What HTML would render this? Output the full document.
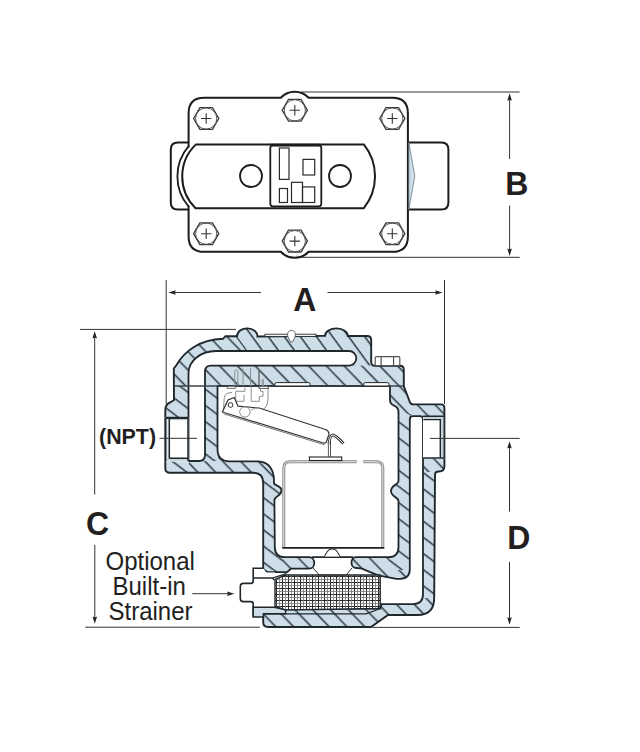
<!DOCTYPE html>
<html><head><meta charset="utf-8">
<style>
html,body{margin:0;padding:0;background:#fff;}
body{width:640px;height:752px;overflow:hidden;}
svg{display:block;}
text{font-family:"Liberation Sans",sans-serif;fill:#231f20;}
</style></head>
<body>
<svg width="640" height="752" viewBox="0 0 640 752">
<defs>
  <pattern id="hatch" patternUnits="userSpaceOnUse" width="12.8" height="40" patternTransform="rotate(-44) translate(0,0)">
    <rect x="0" y="0" width="12.8" height="40" fill="#cddee8"/>
    <rect x="5.5" y="0" width="1.5" height="40" fill="#2a3841"/>
  </pattern>
  <pattern id="hatchH" patternUnits="userSpaceOnUse" width="13.0" height="40" patternTransform="rotate(-36) translate(0,0)">
    <rect x="0" y="0" width="13.0" height="40" fill="#cddee8"/>
    <rect x="5.5" y="0" width="1.5" height="40" fill="#2a3841"/>
  </pattern>
  <pattern id="hatchV" patternUnits="userSpaceOnUse" width="12.9" height="40" patternTransform="rotate(-53) translate(0,0)">
    <rect x="0" y="0" width="12.9" height="40" fill="#cddee8"/>
    <rect x="5.5" y="0" width="1.5" height="40" fill="#2a3841"/>
  </pattern>
  <pattern id="mesh" patternUnits="userSpaceOnUse" width="6" height="6">
    <rect width="6" height="6" fill="#fff"/>
    <rect x="0" y="0" width="1" height="6" fill="#2a2a2a"/>
    <rect x="0" y="0" width="6" height="1" fill="#2a2a2a"/>
    <rect x="3" y="0" width="0.8" height="6" fill="#777"/>
    <rect x="0" y="3" width="6" height="0.8" fill="#777"/>
  </pattern>
  <g id="bolt">
    <polygon points="-12.6,0 -6.3,-10.9 6.3,-10.9 12.6,0 6.3,10.9 -6.3,10.9" fill="#fff" stroke="#3a3a3a" stroke-width="1.3"/>
    <circle r="10.6" fill="none" stroke="#555" stroke-width="1"/>
    <path d="M-5.2,0H5.2M0,-5.2V5.2" stroke="#333" stroke-width="1.1"/>
  </g>
</defs>

<!-- ================= TOP VIEW ================= -->
<g stroke="#1c1c1c" stroke-width="2" fill="#fff">
  <!-- left boss -->
  <path d="M190,142.6 L177.8,142.6 Q170.8,142.6 170.8,149.6 L170.8,202.6 Q170.8,209.6 177.8,209.6 L190,209.6 Z"/>
  <!-- right boss -->
  <path d="M408,142.6 L441.4,142.6 Q448.4,142.6 448.4,149.6 L448.4,202.6 Q448.4,209.6 441.4,209.6 L408,209.6 Z"/>
  <!-- body -->
  <path d="M204.1,97.8 L280.8,97.8 A19 19 0 0 1 308.6,97.8 L392.4,97.8 Q407.9,97.8 407.9,113.3 L407.9,236.4 Q407.9,251.8 392.4,251.8 L308.6,251.8 A19 19 0 0 1 280.8,251.8 L204.1,251.8 Q188.6,251.8 188.6,236.4 L188.6,113.3 Q188.6,97.8 204.1,97.8 Z"/>
</g>
<rect x="186.8" y="147.5" width="3.6" height="58" fill="#fff"/>
<!-- chamfer on right -->
<path d="M408.8,142.6 L414.8,176 L408.8,209.6 Z" fill="#cddee8" stroke="#6a7a86" stroke-width="0.8"/>
<!-- outer arc between boss and body -->
<path d="M188.7,146.2 A46 46 0 0 0 188.7,206.6" fill="none" stroke="#1c1c1c" stroke-width="1.8"/>
<!-- band -->
<path d="M196,144.4 L363.8,144.4 A51 51 0 0 1 363.8,208.2 L195.5,208.2 A44.4 44.4 0 0 1 196,144.4 Z" fill="#fff" stroke="#1c1c1c" stroke-width="2"/>
<circle cx="251" cy="176" r="11" fill="none" stroke="#1c1c1c" stroke-width="1.8"/>
<circle cx="340" cy="176" r="11" fill="none" stroke="#1c1c1c" stroke-width="1.8"/>
<!-- nameplate -->
<rect x="270.3" y="145.3" width="51" height="61" rx="2.5" fill="#fff" stroke="#1c1c1c" stroke-width="1.8"/>
<rect x="270.5" y="143.8" width="50.5" height="2.6" fill="#1c1c1c"/>
<g fill="none" stroke="#2a2a2a" stroke-width="1.2">
  <rect x="279.4" y="148" width="9.6" height="31.4"/>
  <rect x="303" y="159.4" width="11.7" height="15.6"/>
  <rect x="279.4" y="188.5" width="8.1" height="14"/>
  <rect x="291.5" y="182.3" width="11" height="20.2"/>
  <rect x="302.5" y="186.9" width="12.2" height="15.6"/>
</g>
<!-- bolts -->
<use href="#bolt" x="206.2" y="118.5"/>
<use href="#bolt" x="294.8" y="110.3"/>
<use href="#bolt" x="392.3" y="118.5"/>
<use href="#bolt" x="206.2" y="233.7"/>
<use href="#bolt" x="294.8" y="241.1"/>
<use href="#bolt" x="392.3" y="233.7"/>

<!-- dimension B -->
<g stroke="#333" stroke-width="1" fill="none">
  <path d="M301,92 H519.7 M302,257.3 H519.7"/>
  <path d="M509.6,99 V159 M509.6,205.6 V250"/>
</g>
<g fill="#222">
  <path d="M509.60,93.30 L507.30,100.70 L509.60,99.70 L511.90,100.70 Z"/>
  <path d="M509.60,255.90 L507.30,248.50 L509.60,249.50 L511.90,248.50 Z"/>
</g>
<text transform="translate(505.3,194.6) scale(1,1.04)" font-size="32" font-weight="bold">B</text>

<!-- ================= SECTION VIEW ================= -->
<!-- silhouette -->
<defs><clipPath id="silclip"><path d="M225.5,336.2 L237,336.2 A10.25 8 0 0 1 257.5,336.5 L325,335.8 A11.4 7.5 0 0 1 347.8,336 L367.2,336 Q371.2,336 371.2,340 L371.2,362 Q371.2,365.8 375,365.8 L400,365.8 Q403.8,365.8 403.8,369.6 L403.8,386 L409.8,402 Q410.5,404.4 413.5,404.4 L441,404.4 Q444.4,404.4 444.4,408 L444.4,466 Q444.4,471.5 439,471.5 L438.5,471.5 Q435,471.5 435,475 L434.2,598 Q434.2,615 417.5,615 L388,615 L371,627 L268,627 Q263.2,627 263.2,622 L263.2,483 Q263.2,472.8 253,472.8 L170,472.8 Q165.3,472.8 165.3,468 L165.3,410 Q165.3,404 171,402 L174,400 L173.8,368.5 L176.5,365 C184,352 199,339.5 223,338.8 L225.5,336.2 Z"/></clipPath></defs>
<path d="M225.5,336.2 L237,336.2 A10.25 8 0 0 1 257.5,336.5 L325,335.8 A11.4 7.5 0 0 1 347.8,336 L367.2,336 Q371.2,336 371.2,340 L371.2,362 Q371.2,365.8 375,365.8 L400,365.8 Q403.8,365.8 403.8,369.6 L403.8,386 L409.8,402 Q410.5,404.4 413.5,404.4 L441,404.4 Q444.4,404.4 444.4,408 L444.4,466 Q444.4,471.5 439,471.5 L438.5,471.5 Q435,471.5 435,475 L434.2,598 Q434.2,615 417.5,615 L388,615 L371,627 L268,627 Q263.2,627 263.2,622 L263.2,483 Q263.2,472.8 253,472.8 L170,472.8 Q165.3,472.8 165.3,468 L165.3,410 Q165.3,404 171,402 L174,400 L173.8,368.5 L176.5,365 C184,352 199,339.5 223,338.8 L225.5,336.2 Z" fill="#cddee8"/>
<g clip-path="url(#silclip)">
  <rect x="150" y="320" width="300" height="320" fill="url(#hatch)"/>
  <path d="M223.4,320 L460,320 L460,365.5 L256.4,365.5 Z" fill="url(#hatchH)"/>
  <rect x="150" y="386" width="39" height="91" fill="url(#hatchV)"/>
  <rect x="204" y="386" width="14" height="75" fill="url(#hatchV)"/>
  <rect x="262" y="480" width="21" height="90" fill="url(#hatchV)"/>
  <rect x="389" y="414" width="22" height="156" fill="url(#hatchV)"/>
  <rect x="422" y="472" width="16" height="126" fill="url(#hatchV)"/>
</g>
<path id="sil" d="M225.5,336.2 L237,336.2 A10.25 8 0 0 1 257.5,336.5 L325,335.8 A11.4 7.5 0 0 1 347.8,336 L367.2,336 Q371.2,336 371.2,340 L371.2,362 Q371.2,365.8 375,365.8 L400,365.8 Q403.8,365.8 403.8,369.6 L403.8,386 L409.8,402 Q410.5,404.4 413.5,404.4 L441,404.4 Q444.4,404.4 444.4,408 L444.4,466 Q444.4,471.5 439,471.5 L438.5,471.5 Q435,471.5 435,475 L434.2,598 Q434.2,615 417.5,615 L388,615 L371,627 L268,627 Q263.2,627 263.2,622 L263.2,483 Q263.2,472.8 253,472.8 L170,472.8 Q165.3,472.8 165.3,468 L165.3,410 Q165.3,404 171,402 L174,400 L173.8,368.5 L176.5,365 C184,352 199,339.5 223,338.8 L225.5,336.2 Z" fill="none" stroke="#1f272c" stroke-width="1.9"/>

<!-- inlet channel -->
<path d="M188.5,461 L188.5,373 A27.5 22 0 0 1 216,351 L349,351 A7.3 7.3 0 0 1 349,365.6 L211,365.6 Q205,365.6 205,371.6 L205,455 Q205,461 199,461 Z" fill="#fff" stroke="#1f272c" stroke-width="1.8"/>
<!-- left port bore -->
<rect x="165.3" y="417" width="23.2" height="44.5" fill="#fff"/>
<rect x="165.6" y="418" width="22.7" height="2.2" fill="#b9c6ce"/>
<rect x="165.6" y="458.3" width="22.7" height="3" fill="#c9d6de"/>
<rect x="166" y="418" width="3.2" height="41" fill="#e3ebf0"/>
<path d="M165.7,461.5 V418 M169.3,419 V458.5 M188,418 V461 M169.3,458.3 H188" fill="none" stroke="#1f272c" stroke-width="1.5"/>
<path d="M165.6,417.9 H188.5" stroke="#1f272c" stroke-width="2.2"/>
<!-- main cavity + strainer cavity + right channel -->
<path d="M217.5,386 L390,386 L390,400 Q390,403.5 393,405 L396,406.8 Q398.5,408.5 398.5,412 L398.5,481 C398.5,485 391,485 391,491 C391,497 398.5,497 398.5,501 L398.5,547 Q398.5,557.2 388.3,557.2 L356,557.2 C350,557.2 350,568 356,568 L361.3,568.3 L378.1,575.3 L396.4,578.8 L400,578.8 Q409.8,578.8 409.8,569 L409.8,419.5 Q409.8,416.2 413,416.2 L420,416.2 Q423,416.2 423,419.5 L423,594 Q423,604.1 413,604.1 L381.6,604.1 L380.5,608.5 L264,608.5 L264,569.5 L267.5,572.1 L287,572.1 L291,568.7 L309,568.7 C316,568.7 316,557.2 309,557.2 L285,557.2 Q274.8,557.2 274.8,547 L274.4,500 C275,496 281.5,495.5 281.5,490.5 C281.5,486 275.5,486 274,483.5 L273.8,477 Q271.5,461.3 257,461.3 L229.5,461.3 Q217.5,461.3 217.5,449 Z" fill="#fff" stroke="#1f272c" stroke-width="1.8"/>

<!-- right port bore -->
<rect x="423" y="416" width="21.4" height="42.5" fill="#fff"/>
<rect x="423.5" y="416.5" width="20.5" height="3" fill="#c4d2db"/>
<rect x="440.3" y="416.5" width="3.8" height="41.5" fill="#c4d2db"/>
<path d="M423,416.2 H444.2 M423.4,419.6 H440.3 V458 M444.2,416 V458 M423,458 H444.2" fill="none" stroke="#1f272c" stroke-width="1.4"/>
<!-- joint line -->
<path d="M174,386 H403" stroke="#3a454c" stroke-width="1.6"/>
<!-- gasket slots -->
<rect x="275" y="382.6" width="35" height="3.4" rx="1.5" fill="#fff" stroke="#1f272c" stroke-width="1"/>
<rect x="363.8" y="382.6" width="25.2" height="3.4" rx="1.5" fill="#fff" stroke="#1f272c" stroke-width="1"/>
<!-- top slot + rivet -->
<rect x="265" y="334.2" width="51" height="2.2" fill="#fff" stroke="#1f272c" stroke-width="0.9"/>
<path d="M288,337 A4 4.5 0 1 1 295,337 L292.5,342 L290.5,342 Z" fill="#fff" stroke="#555" stroke-width="0.9"/>
<!-- top plug -->
<rect x="375.2" y="356.7" width="24.6" height="9" rx="1.2" fill="#fff" stroke="#555" stroke-width="1.2"/>
<path d="M381.1,356.7 V365.7 M393.6,356.7 V365.7" stroke="#444" stroke-width="1.1"/>

<!-- strainer plug -->
<path d="M263.75,568.2 H253.2 V581 Q253.2,583.4 250.8,583.4 H243.5 Q240.3,583.4 240.3,586.5 V598.5 Q240.3,601.6 243.5,601.6 H250.8 Q253.2,601.6 253.2,604 V617 H263.4 L263.4,609 L275,609 L275,572.5 L266,572.5 Z" fill="#fff" stroke="none"/>
<path d="M263.75,568.2 H253.2 V581 Q253.2,583.4 250.8,583.4 H243.5 Q240.3,583.4 240.3,586.5 V598.5 Q240.3,601.6 243.5,601.6 H250.8 Q253.2,601.6 253.2,604 V617" fill="none" stroke="#1f272c" stroke-width="1.6"/>
<path d="M253.2,607.3 H274.3 L285.6,609.8 L285.6,613.8 L263.4,613.8 V617 H253.2 Z" fill="#cddee8" stroke="#1f272c" stroke-width="1.5"/>
<path d="M253.2,578 H272.3 L286.4,573.7 M272.3,578 L274.3,580" fill="none" stroke="#1f272c" stroke-width="1.3"/>
<path d="M265,613.8 H366 L380.5,608.5" fill="none" stroke="#1f272c" stroke-width="1.3"/>
<!-- mesh -->
<path d="M285.6,575 L380.2,575 L380.2,606 L377.6,608.5 L285.6,610 L275,606.3 L275,579.4 Z" fill="url(#mesh)" stroke="#1f272c" stroke-width="1.4"/>
<!-- valve under hole -->
<path d="M313,568 L319.4,575 L346.3,575 L351.9,568" fill="none" stroke="#333" stroke-width="1"/>
<path d="M312,557.1 H353" stroke="#1f272c" stroke-width="1.6"/>
<!-- dome -->
<path d="M324.4,556.6 C328,549.5 329.5,549 332.2,549 C335,549 336.5,549.5 340,556.6" fill="#fff" stroke="#333" stroke-width="1.1"/>

<!-- bucket -->
<path d="M283.8,547.8 L283.8,467.8 Q283.8,461.8 289.8,461.8 L357,461.8 M363,461.8 L376.8,461.8 Q382.8,461.8 382.8,467.8 L382.8,547.8" fill="none" stroke="#8c8c8c" stroke-width="3"/>
<path d="M283.8,547.8 L283.8,467.8 Q283.8,461.8 289.8,461.8 L357,461.8 M363,461.8 L376.8,461.8 Q382.8,461.8 382.8,467.8 L382.8,547.8" fill="none" stroke="#e6e6e6" stroke-width="1"/>
<path d="M282.3,547.8 H384.3" stroke="#1f1f1f" stroke-width="1.8"/>
<rect x="309.4" y="457" width="32.3" height="3.5" fill="#fff" stroke="#222" stroke-width="1.1"/>
<!-- wire -->
<path d="M328.4,440.8 V457 M330.5,440.8 V457" stroke="#444" stroke-width="0.9"/>
<!-- valve mechanism (gray thin) -->
<g fill="none" stroke="#8a9095" stroke-width="1">
  <path d="M234.7,386 V371 Q236.2,368.4 237.8,371 V386"/>
  <path d="M243.1,368.5 V386"/>
  <path d="M250.5,368 V386"/>
  <path d="M262,386 V380 Q262.7,378 263.4,380 V386"/>
  <path d="M223.5,410 L224.3,397 Q225.5,392.5 232,392.5"/>
  <path d="M268,387.5 V399 Q268,411 256,411"/>
  <path d="M244.9,387.5 V391.3 H235.7 V401.3 H244 V395"/>
  <path d="M251.2,387.5 V401.3 H259.3 V396.3 H263 V391.3 H260.5 V388"/>
</g>
<path d="M259,371 V388 H268.4 V386" stroke="#3a3a3a" stroke-width="1" fill="none"/>
<rect x="227.2" y="386.3" width="8" height="2" fill="#fff" stroke="#555" stroke-width="0.8"/>
<rect x="259.2" y="386.3" width="9" height="2" fill="#fff" stroke="#555" stroke-width="0.8"/>
<!-- lever -->
<path d="M238,406.2 L259.2,408 L325.5,429.5 Q329.5,431 328.9,434.5 L326.5,441.5 Q325.8,443.4 324,443.2 L222.4,412 L228,400 L234.3,397.5 Z" fill="#fff" stroke="#333" stroke-width="1.2"/>
<path d="M223.5,413.8 L324.5,444.8" stroke="#666" stroke-width="0.9"/>
<circle cx="244.9" cy="411.9" r="5.2" fill="none" stroke="#8a9095" stroke-width="1"/>
<path d="M251,410 Q255.5,406.5 260,408.4" fill="none" stroke="#8a9095" stroke-width="1"/>
<circle cx="230.5" cy="405" r="2.4" fill="#fff" stroke="#333" stroke-width="1"/>
<!-- hook -->
<path d="M329,444 Q330,434.8 333,435 Q335.5,435.2 343.5,443.5" fill="none" stroke="#333" stroke-width="2.8"/>
<path d="M329,444 Q330,434.8 333,435 Q335.5,435.2 343.5,443.5" fill="none" stroke="#fff" stroke-width="1"/>

<!-- ================= DIMENSIONS (section) ================= -->
<g stroke="#333" stroke-width="1" fill="none">
  <path d="M166.2,280 V404"/>
  <path d="M444.5,280 V404"/>
  <path d="M174,292.5 H261 M327.5,292.5 H437"/>
  <path d="M80,329.4 H236"/>
  <path d="M94.7,337 V494.5 M94.8,544.8 V618"/>
  <path d="M85.3,627.2 H260 M372.5,627.4 H519.7"/>
  <path d="M430,438.4 H519.7"/>
  <path d="M509.5,447 V511.6 M509.5,561.9 V619"/>
  <path d="M159.5,438.3 H197"/>
  <path d="M192.3,593.7 H228.5"/>
</g>
<g fill="#222">
  <path d="M168.40,292.50 L175.80,290.20 L174.80,292.50 L175.80,294.80 Z"/>
  <path d="M442.50,292.50 L435.10,290.20 L436.10,292.50 L435.10,294.80 Z"/>
  <path d="M94.70,331.20 L92.40,338.60 L94.70,337.60 L97.00,338.60 Z"/>
  <path d="M94.80,623.80 L92.50,616.40 L94.80,617.40 L97.10,616.40 Z"/>
  <path d="M509.50,441.20 L507.20,448.60 L509.50,447.60 L511.80,448.60 Z"/>
  <path d="M509.50,624.70 L507.20,617.30 L509.50,618.30 L511.80,617.30 Z"/>
  <path d="M234.40,593.70 L227.00,591.40 L228.00,593.70 L227.00,596.00 Z"/>
</g>
<text transform="translate(293.3,311.1) scale(1,1.04)" font-size="32" font-weight="bold">A</text>
<text transform="translate(86,535.2) scale(1,1.06)" font-size="32" font-weight="bold">C</text>
<text transform="translate(507.2,549.2) scale(1,1.04)" font-size="32" font-weight="bold">D</text>
<text transform="translate(99,444.2) scale(1,1.04)" font-size="21.4" font-weight="bold">(NPT)</text>
<text transform="translate(105.5,569.8) scale(1,1.06)" font-size="24">Optional</text>
<text transform="translate(112.5,595) scale(1,1.06)" font-size="24">Built-in</text>
<text transform="translate(108.5,620) scale(1,1.06)" font-size="24">Strainer</text>
</svg>
</body></html>
